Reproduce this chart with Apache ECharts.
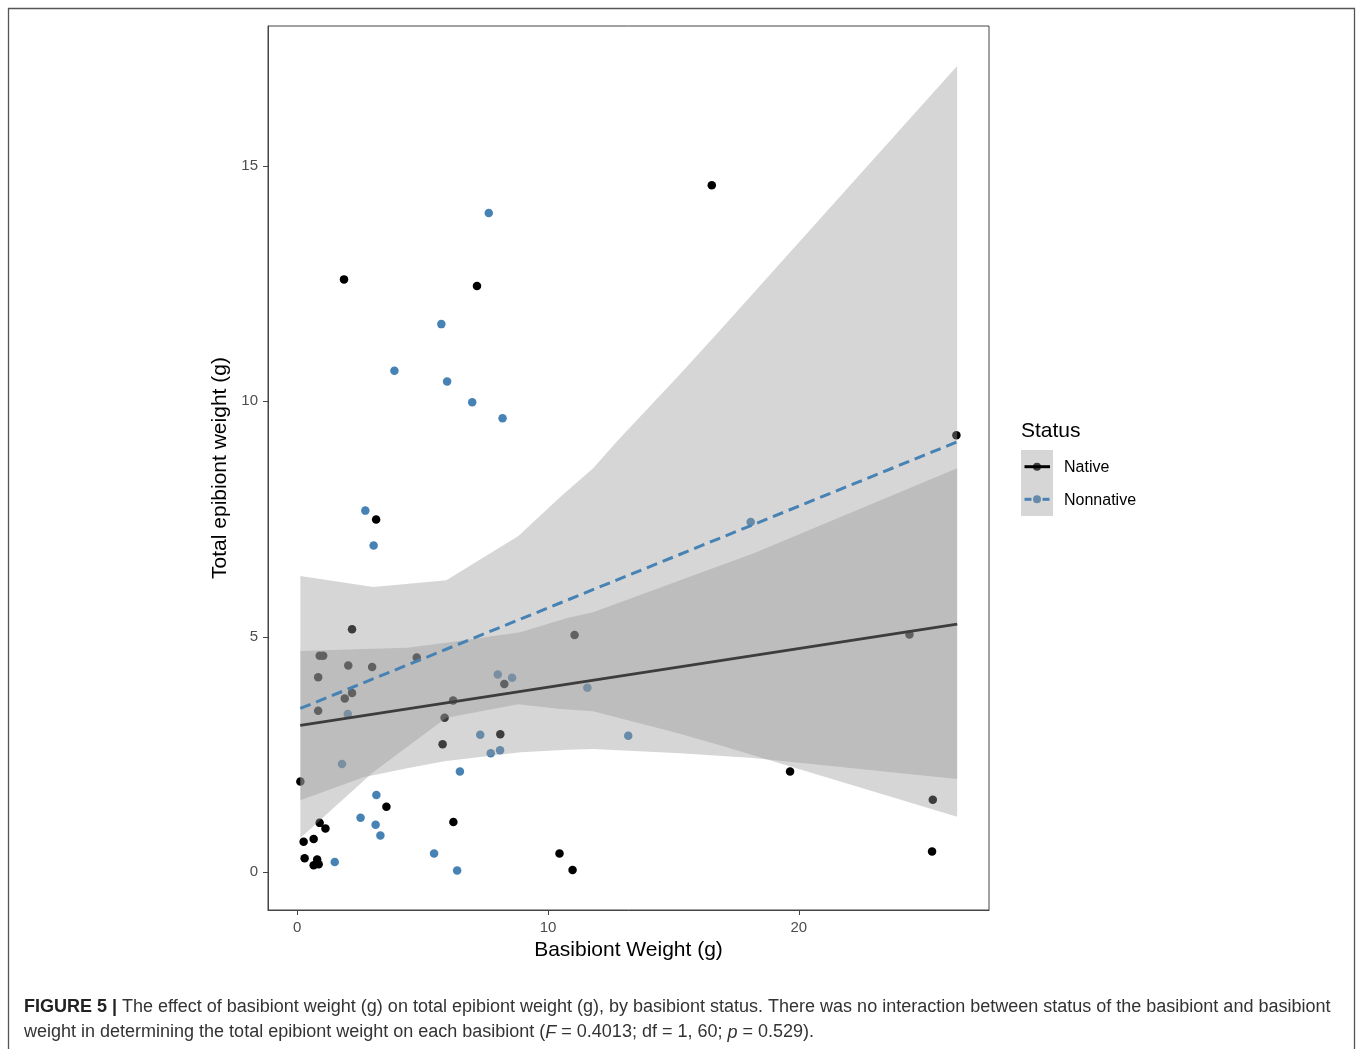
<!DOCTYPE html>
<html>
<head>
<meta charset="utf-8">
<script src="https://cdn.jsdelivr.net/npm/echarts@6/dist/echarts.min.js"></script>
<style>
html,body{margin:0;padding:0;background:#fff;}
#chart{width:1358px;height:1049px;}
</style>
</head>
<body>
<div id="chart"></div>
<script>
// ---------- data ----------
var nativeX = [2.19,0.90,1.04,2.04,2.99,4.77,0.84,8.26,1.90,2.19,6.22,0.84,5.88,8.10,5.80,0.13,3.56,6.23,0.90,1.13,0.26,0.66,0.30,0.80,0.66,0.86,10.46,11.06,10.98,1.87,7.17,3.15,16.53,26.28,24.41,19.65,25.34,25.31];
var nativeY = [5.16,4.60,4.60,4.39,4.36,4.56,4.14,4.00,3.69,3.81,3.65,3.43,3.28,2.93,2.72,1.93,1.39,1.07,1.05,0.93,0.65,0.71,0.30,0.27,0.15,0.17,0.40,5.04,0.05,12.59,12.45,7.49,14.59,9.28,5.05,2.14,1.54,0.44];
var nonnativeX = [8.00,8.57,2.02,7.30,7.72,8.09,6.49,1.79,3.16,2.53,3.13,3.32,1.50,5.46,6.38,11.57,13.20,7.64,5.75,3.88,5.98,6.98,8.19,2.72,3.05,18.08];
var nonnativeY = [4.20,4.13,3.36,2.92,2.53,2.59,2.14,2.30,1.64,1.16,1.01,0.78,0.22,0.40,0.04,3.92,2.90,14.00,11.64,10.65,10.42,9.98,9.64,7.68,6.94,7.44];

// fitted lines (end points)
var fitX = [0.13, 26.31];
var nativeFit = [3.12, 5.27];
var nonnativeFit = [3.48, 9.14];

// confidence ribbons
var nativeBandX = [0.13,2.64,4.39,5.87,8.90,10.77,11.80,15.27,18.18,26.31];
var nativeBandUp = [4.70,4.74,4.77,4.87,5.10,5.40,5.52,6.20,6.77,8.58];
var nativeBandLo = [1.53,2.02,2.21,2.36,2.55,2.60,2.62,2.53,2.43,1.98];
var nonnativeBandX = [0.13,3.04,5.95,8.82,10.49,11.80,12.80,15.15,16.86,26.31];
var nonnativeBandUp = [6.29,6.06,6.20,7.14,7.97,8.58,9.18,10.51,11.51,17.12];
var nonnativeBandLo = [0.73,2.13,3.28,3.57,3.47,3.42,3.28,2.96,2.70,1.18];

var xTicks = [0, 10, 20];
var yTicks = [0, 5, 10, 15];
var statusNames = ['Native', 'Nonnative'];

// ---------- helpers ----------
function pairs(xs, ys){ var o=[]; for(var i=0;i<xs.length;i++) o.push([xs[i], ys[i]]); return o; }
function ribbon(xs, up, lo, z){
  return {
    type: 'custom', z: z, silent: true, clip: true,
    data: [[xs[0], up[0]]],
    encode: {x: 0, y: 1},
    renderItem: function(params, api){
      var pts = [];
      for (var i=0;i<xs.length;i++) pts.push(api.coord([xs[i], up[i]]));
      for (var j=xs.length-1;j>=0;j--) pts.push(api.coord([xs[j], lo[j]]));
      return {type:'polygon', shape:{points:pts}, style:{fill:'rgba(153,153,153,0.4)', stroke:null}};
    }
  };
}

var FONT = 'Liberation Sans, Arial, Helvetica, sans-serif';
var chart = echarts.init(document.getElementById('chart'), null, {renderer:'canvas'});

var option = {
  backgroundColor: '#ffffff',
  animation: false,
  textStyle: {fontFamily: FONT},
  grid: {left: 268, top: 26, right: 369, bottom: 139, show: true, borderColor: '#444', borderWidth: 1, backgroundColor: 'transparent'},
  xAxis: {
    type: 'value', min: -1.16, max: 27.58,
    name: 'Basibiont Weight (g)', nameLocation: 'middle', nameGap: 27,
    nameTextStyle: {fontSize: 21, color: '#000', fontFamily: FONT},
    axisLine: {show: true, onZero: false, lineStyle: {color: '#444', width: 1}},
    axisTick: {show: true, inside: false, length: 5, lineStyle: {color: '#444', width: 1}, customValues: xTicks},
    axisLabel: {fontSize: 15, color: '#4d4d4d', margin: 10, fontFamily: FONT, customValues: xTicks},
    splitLine: {show: false}
  },
  yAxis: {
    type: 'value', min: -0.80, max: 17.97,
    name: 'Total epibiont weight (g)', nameLocation: 'middle', nameGap: 31,
    nameTextStyle: {fontSize: 21, color: '#000', fontFamily: FONT},
    axisLine: {show: true, onZero: false, lineStyle: {color: '#444', width: 1}},
    axisTick: {show: true, inside: false, length: 5, lineStyle: {color: '#444', width: 1}, customValues: yTicks},
    axisLabel: {fontSize: 15, color: '#4d4d4d', margin: 10, fontFamily: FONT, customValues: yTicks},
    splitLine: {show: false}
  },
  series: [
    {name: statusNames[0], type: 'scatter', z: 1, symbolSize: 8.5, itemStyle: {color: '#000000', opacity: 1}, data: pairs(nativeX, nativeY), silent: true},
    {name: statusNames[1], type: 'scatter', z: 1, symbolSize: 8.5, itemStyle: {color: '#4682B4', opacity: 1}, data: pairs(nonnativeX, nonnativeY), silent: true},
    ribbon(nativeBandX, nativeBandUp, nativeBandLo, 2),
    {type: 'line', z: 3, showSymbol: false, silent: true, data: pairs(fitX, nativeFit), lineStyle: {color: '#000000', width: 3}},
    ribbon(nonnativeBandX, nonnativeBandUp, nonnativeBandLo, 4),
    {type: 'line', z: 5, showSymbol: false, silent: true, data: pairs(fitX, nonnativeFit), lineStyle: {color: '#4682B4', width: 3, type: [11, 6]}}
  ],
  graphic: [
    // outer figure frame
    {type: 'rect', z: 0, shape: {x: 8.5, y: 8.5, width: 1346, height: 1100}, style: {fill: 'none', stroke: '#555', lineWidth: 1.3}},
    // legend
    {type: 'text', left: 1021, top: 421, style: {text: 'Status', fontSize: 21, fill: '#000', fontFamily: FONT}},
    {type: 'rect', shape: {x: 1021, y: 450, width: 32, height: 66}, style: {fill: '#ffffff'}},
    {type: 'circle', shape: {cx: 1037, cy: 466.7, r: 4}, style: {fill: '#000'}},
    {type: 'circle', shape: {cx: 1037, cy: 499.3, r: 4}, style: {fill: '#4682B4'}},
    {type: 'rect', shape: {x: 1021, y: 450, width: 32, height: 66}, style: {fill: 'rgba(153,153,153,0.4)'}},
    {type: 'line', shape: {x1: 1024.5, y1: 466.7, x2: 1050, y2: 466.7}, style: {stroke: '#000', lineWidth: 3}},
    {type: 'line', shape: {x1: 1024.5, y1: 499.3, x2: 1031.5, y2: 499.3}, style: {stroke: '#4682B4', lineWidth: 3}},
    {type: 'line', shape: {x1: 1042.5, y1: 499.3, x2: 1049.5, y2: 499.3}, style: {stroke: '#4682B4', lineWidth: 3}},
    {type: 'text', left: 1064, top: 460, style: {text: statusNames[0], fontSize: 16, fill: '#000', fontFamily: FONT}},
    {type: 'text', left: 1064, top: 493, style: {text: statusNames[1], fontSize: 16, fill: '#000', fontFamily: FONT}},
    // caption
    {type: 'text', left: 24, top: 995, style: {
      text: '{b|FIGURE 5 |} {n|The effect of basibiont weight (g) on total epibiont weight (g), by basibiont status. There was no interaction between status of the basibiont and basibiont}\n{n|weight in determining the total epibiont weight on each basibiont (}{i|F}{n| = 0.4013; df = 1, 60; }{i|p}{n| = 0.529).}',
      fontFamily: FONT, fontSize: 18, lineHeight: 25, fill: '#333',
      rich: {
        b: {fontWeight: 'bold', fontSize: 18, fill: '#222', fontFamily: FONT, lineHeight: 25},
        n: {fontSize: 18, fill: '#333', fontFamily: FONT, lineHeight: 25},
        i: {fontSize: 18, fill: '#333', fontStyle: 'italic', fontFamily: FONT, lineHeight: 25}
      }
    }}
  ]
};
chart.setOption(option);
</script>
</body>
</html>
